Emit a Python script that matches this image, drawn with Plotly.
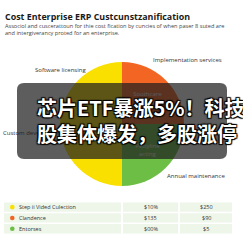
import plotly.graph_objects as go

W = 243.0

# ---- data ----
slice_labels = ["Implementation services", "Annual maintenance", "Custom development", "Software licensing"]
slice_values = [25, 25, 25, 25]
slice_colors = ["#F26522", "#6CBE45", "#FAE000", "#FAE000"]
slice_inner = ["Southcare<br>acting", "Pettyline<br>acting", "", ""]

legend_names = ["Step ii Vided Culection", "Clandence", "Entorses"]
legend_colors = ["#FAE000", "#F26522", "#6CBE45"]
col_pct = ["$10%", "$135", "$00%"]
col_amt = ["$250", "$90", "$5"]

title = "Cost Enterprise ERP Custcunstzanification"
subtitle = ("Associol and cuscerattoun for thie cost fication by cuncies of when paser 8 suted are<br>"
            "and intergiverancy proted for an enterprise.")
banner_lines = ["芯片ETF暴涨5%！科技", "股集体爆发，多股涨停"]


def px(x):
    return x / W


def py(y):
    return 1 - y / W


fig = go.Figure()

# pie centred ~ (122,124), radius ~62
fig.add_trace(go.Pie(
    labels=slice_labels, values=slice_values, sort=False, direction="clockwise",
    rotation=0, marker=dict(colors=slice_colors, line=dict(width=0)),
    text=slice_inner, texttemplate="%{text}", textposition="inside",
    insidetextorientation="horizontal",
    textfont=dict(size=6, color="#f0f0f0", family="Open Sans"),
    hoverinfo="skip", showlegend=False,
    domain=dict(x=[px(60), px(184)], y=[py(186), py(62)]),
))

font_t = dict(size=5.5, color="#333", family="Open Sans")
annotations = []
shapes = []

# table built from the data lists
col_x = [(4, 121), (123, 178), (180, 232)]
row_top0, row_step, row_h = 202.5, 10.8, 9.3
for i, (name, color, pct, amt) in enumerate(zip(legend_names, legend_colors, col_pct, col_amt)):
    top = row_top0 + i * row_step
    bot = top + row_h
    mid = (top + bot) / 2
    for (cx0, cx1) in col_x:
        shapes.append(dict(type="rect", xref="paper", yref="paper", x0=px(cx0), x1=px(cx1),
                           y0=py(bot), y1=py(top), fillcolor="#EEF6EA", line=dict(width=0),
                           layer="below"))
    shapes.append(dict(type="circle", xref="paper", yref="paper", x0=px(10), x1=px(14.6),
                       y0=py(mid + 2.3), y1=py(mid - 2.3), fillcolor=color, line=dict(width=0)))
    annotations.append(dict(text=name, x=px(17), y=py(mid), xanchor="left", yanchor="middle",
                            font=font_t))
    annotations.append(dict(text=pct, x=px((col_x[1][0] + col_x[1][1]) / 2), y=py(mid),
                            xanchor="center", yanchor="middle", font=font_t))
    annotations.append(dict(text=amt, x=px((col_x[2][0] + col_x[2][1]) / 2), y=py(mid),
                            xanchor="center", yanchor="middle", font=font_t))

annotations += [
    dict(text=f"<b>{title}</b>", x=px(3), y=py(16), xanchor="left", yanchor="middle",
         font=dict(size=8.9, color="#1a1a1a", family="Open Sans")),
    dict(text=subtitle, x=px(3), y=py(29.5), xanchor="left", yanchor="middle", align="left",
         font=dict(size=5.6, color="#444", family="Open Sans")),
    dict(text="Software licensing", x=px(60), y=py(70), xanchor="center", yanchor="middle",
         font=dict(size=6, color="#333", family="Open Sans")),
    dict(text="Implementation services", x=px(187), y=py(60), xanchor="center", yanchor="middle",
         font=dict(size=6, color="#333", family="Open Sans")),
    dict(text="Annual maintenance", x=px(196), y=py(176), xanchor="center", yanchor="middle",
         font=dict(size=6, color="#333", family="Open Sans")),
]
shadow = "1px 1px 1px #000, -1px -1px 1px #000, 1px -1px 1px #000, -1px 1px 1px #000"
annotations.append(dict(text=f"<b>{banner_lines[0]}</b>", x=px(35), y=py(107), xanchor="left",
                        yanchor="middle",
                        font=dict(size=20, color="white", family="Noto Sans CJK SC", shadow=shadow)))
annotations.append(dict(text=f"<b>{banner_lines[1]}</b>", x=px(35), y=py(133), xanchor="left",
                        yanchor="middle",
                        font=dict(size=20, color="white", family="Noto Sans CJK SC", shadow=shadow)))
for a in annotations:
    a.update(xref="paper", yref="paper", showarrow=False)

# banner rounded rect
x0, x1, y0, y1, r = 17, 227, 83, 159, 7
pts = [
    ("M", (x0 + r, y0)), ("L", (x1 - r, y0)), ("Q", (x1, y0), (x1, y0 + r)),
    ("L", (x1, y1 - r)), ("Q", (x1, y1), (x1 - r, y1)), ("L", (x0 + r, y1)),
    ("Q", (x0, y1), (x0, y1 - r)), ("L", (x0, y0 + r)), ("Q", (x0, y0), (x0 + r, y0)),
]
path = ""
for p in pts:
    path += p[0] + " " + " ".join(f"{px(a):.5f},{py(b):.5f}" for a, b in p[1:]) + " "
path += "Z"

shapes += [
    dict(type="rect", xref="paper", yref="paper", x0=px(0), x1=px(16), y0=py(129), y1=py(137),
         line=dict(width=0), fillcolor="rgba(0,0,0,0)", layer="below",
         label=dict(text="Custom development", textposition="middle left",
                    font=dict(size=6, color="#333", family="Open Sans"), padding=0)),
    dict(type="path", xref="paper", yref="paper", path=path, fillcolor="rgba(30,30,30,0.72)",
         line=dict(width=0), layer="above"),
]

fig.update_layout(
    width=243, height=243, margin=dict(l=0, r=0, t=0, b=0),
    paper_bgcolor="white", plot_bgcolor="white",
    annotations=annotations, shapes=shapes,
)

fig.write_html("out.html")
